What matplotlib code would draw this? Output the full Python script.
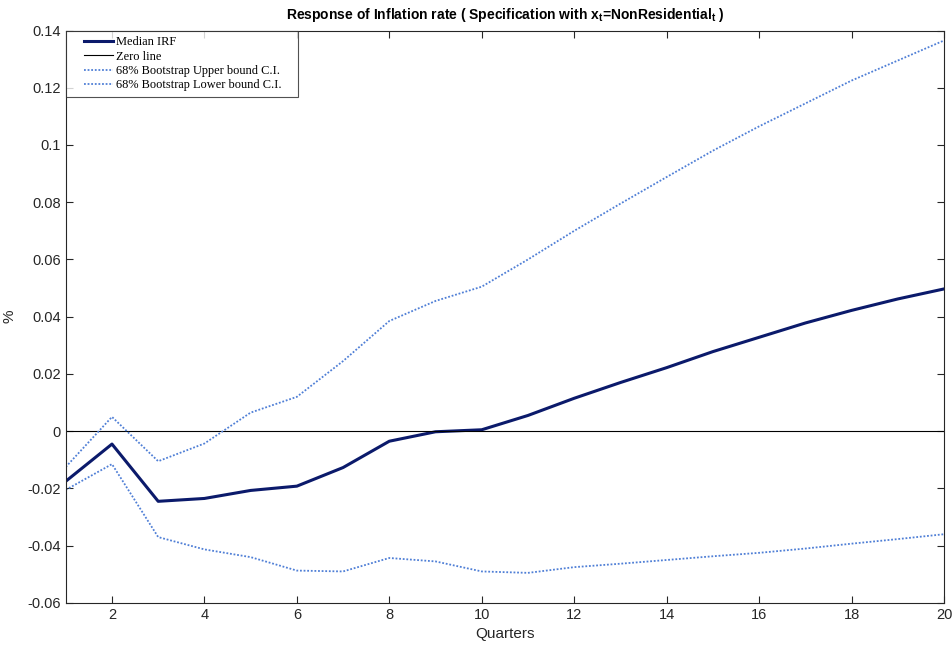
import matplotlib
matplotlib.use("Agg")
import matplotlib.pyplot as plt
from matplotlib.ticker import FuncFormatter
from matplotlib.legend_handler import HandlerLine2D

quarters = list(range(1, 21))

median_irf = [-0.0175, -0.0045, -0.0245, -0.0235, -0.0207, -0.0192, -0.0127, -0.0035,
              -0.0002, 0.0005, 0.0055, 0.0115, 0.0170, 0.0222, 0.0278, 0.0328,
              0.0378, 0.0422, 0.0462, 0.0497]
upper_ci = [-0.0125, 0.0050, -0.0105, -0.0043, 0.0065, 0.0120, 0.0245, 0.0385,
            0.0455, 0.0505, 0.0600, 0.0700, 0.0795, 0.0888, 0.0980, 0.1065,
            0.1145, 0.1225, 0.1295, 0.1365]
lower_ci = [-0.0205, -0.0115, -0.0370, -0.0413, -0.0440, -0.0487, -0.0490, -0.0443,
            -0.0455, -0.0490, -0.0495, -0.0475, -0.0463, -0.0450, -0.0437, -0.0425,
            -0.0410, -0.0393, -0.0377, -0.0360]
zero_line = [0.0] * len(quarters)

x_ticks = [2, 4, 6, 8, 10, 12, 14, 16, 18, 20]
y_ticks = [-0.06, -0.04, -0.02, 0, 0.02, 0.04, 0.06, 0.08, 0.1, 0.12, 0.14]


class IndentedLine(HandlerLine2D):
    # legend sample line drawn in the right part of the handle box, matlab style
    def create_artists(self, legend, orig_handle, xdescent, ydescent, width, height, fontsize, trans):
        shift = width * 0.3
        return super().create_artists(legend, orig_handle, xdescent - shift, ydescent,
                                      width - shift, height, fontsize, trans)


plt.rcParams['font.family'] = ['Liberation Sans', 'DejaVu Sans']

fig = plt.figure(figsize=(9.53, 6.49), dpi=100)
ax = fig.add_axes([0.069, 0.071, 0.9215, 0.882])

ax.plot(quarters, median_irf, color='#0b1a6b', linewidth=2.2, label='Median IRF')
ax.plot(quarters, zero_line, color='black', linewidth=0.8, label='Zero line')
ax.plot(quarters, upper_ci, color='#4f7fd6', linewidth=1.3, linestyle=(0, (1, 1)),
        label='68% Bootstrap Upper bound C.I.')
ax.plot(quarters, lower_ci, color='#4f7fd6', linewidth=1.3, linestyle=(0, (1, 1)),
        label='68% Bootstrap Lower bound C.I.')

ax.set_xlim(1, 20)
ax.set_ylim(-0.06, 0.14)
ax.set_xticks(x_ticks)
ax.set_yticks(y_ticks)
ax.yaxis.set_major_formatter(FuncFormatter(lambda v, p: '0' if abs(v) < 1e-12 else '%g' % v))

ax.tick_params(direction='in', top=True, right=True, length=5, width=0.8,
               labelsize=10.5, colors='#262626', labelcolor='#262626')
for s in ax.spines.values():
    s.set_color('#262626')
    s.set_linewidth(0.8)

ax.set_xlabel('Quarters', fontsize=11, color='#262626', labelpad=4)
ax.set_ylabel('%', fontsize=11, color='#262626', labelpad=8)
ax.set_title(r'Response of Inflation rate ( Specification with x$_\mathregular{t}$=NonResidential$_\mathregular{t}$ )',
             fontsize=10, fontweight='bold', pad=8)

leg_width = (298 - 66) / 878.0
leg = ax.legend(loc='upper left', bbox_to_anchor=(0, 1, leg_width, 0), mode='expand',
                prop={'family': 'Liberation Serif', 'size': 8.9},
                frameon=True, fancybox=False, borderaxespad=0, handlelength=3.4,
                labelspacing=0.2, borderpad=0.45, handletextpad=0.2,
                handler_map={matplotlib.lines.Line2D: IndentedLine()})
leg.get_frame().set_edgecolor('#262626')
leg.get_frame().set_linewidth(0.8)

fig.savefig('out.png', dpi=100)
